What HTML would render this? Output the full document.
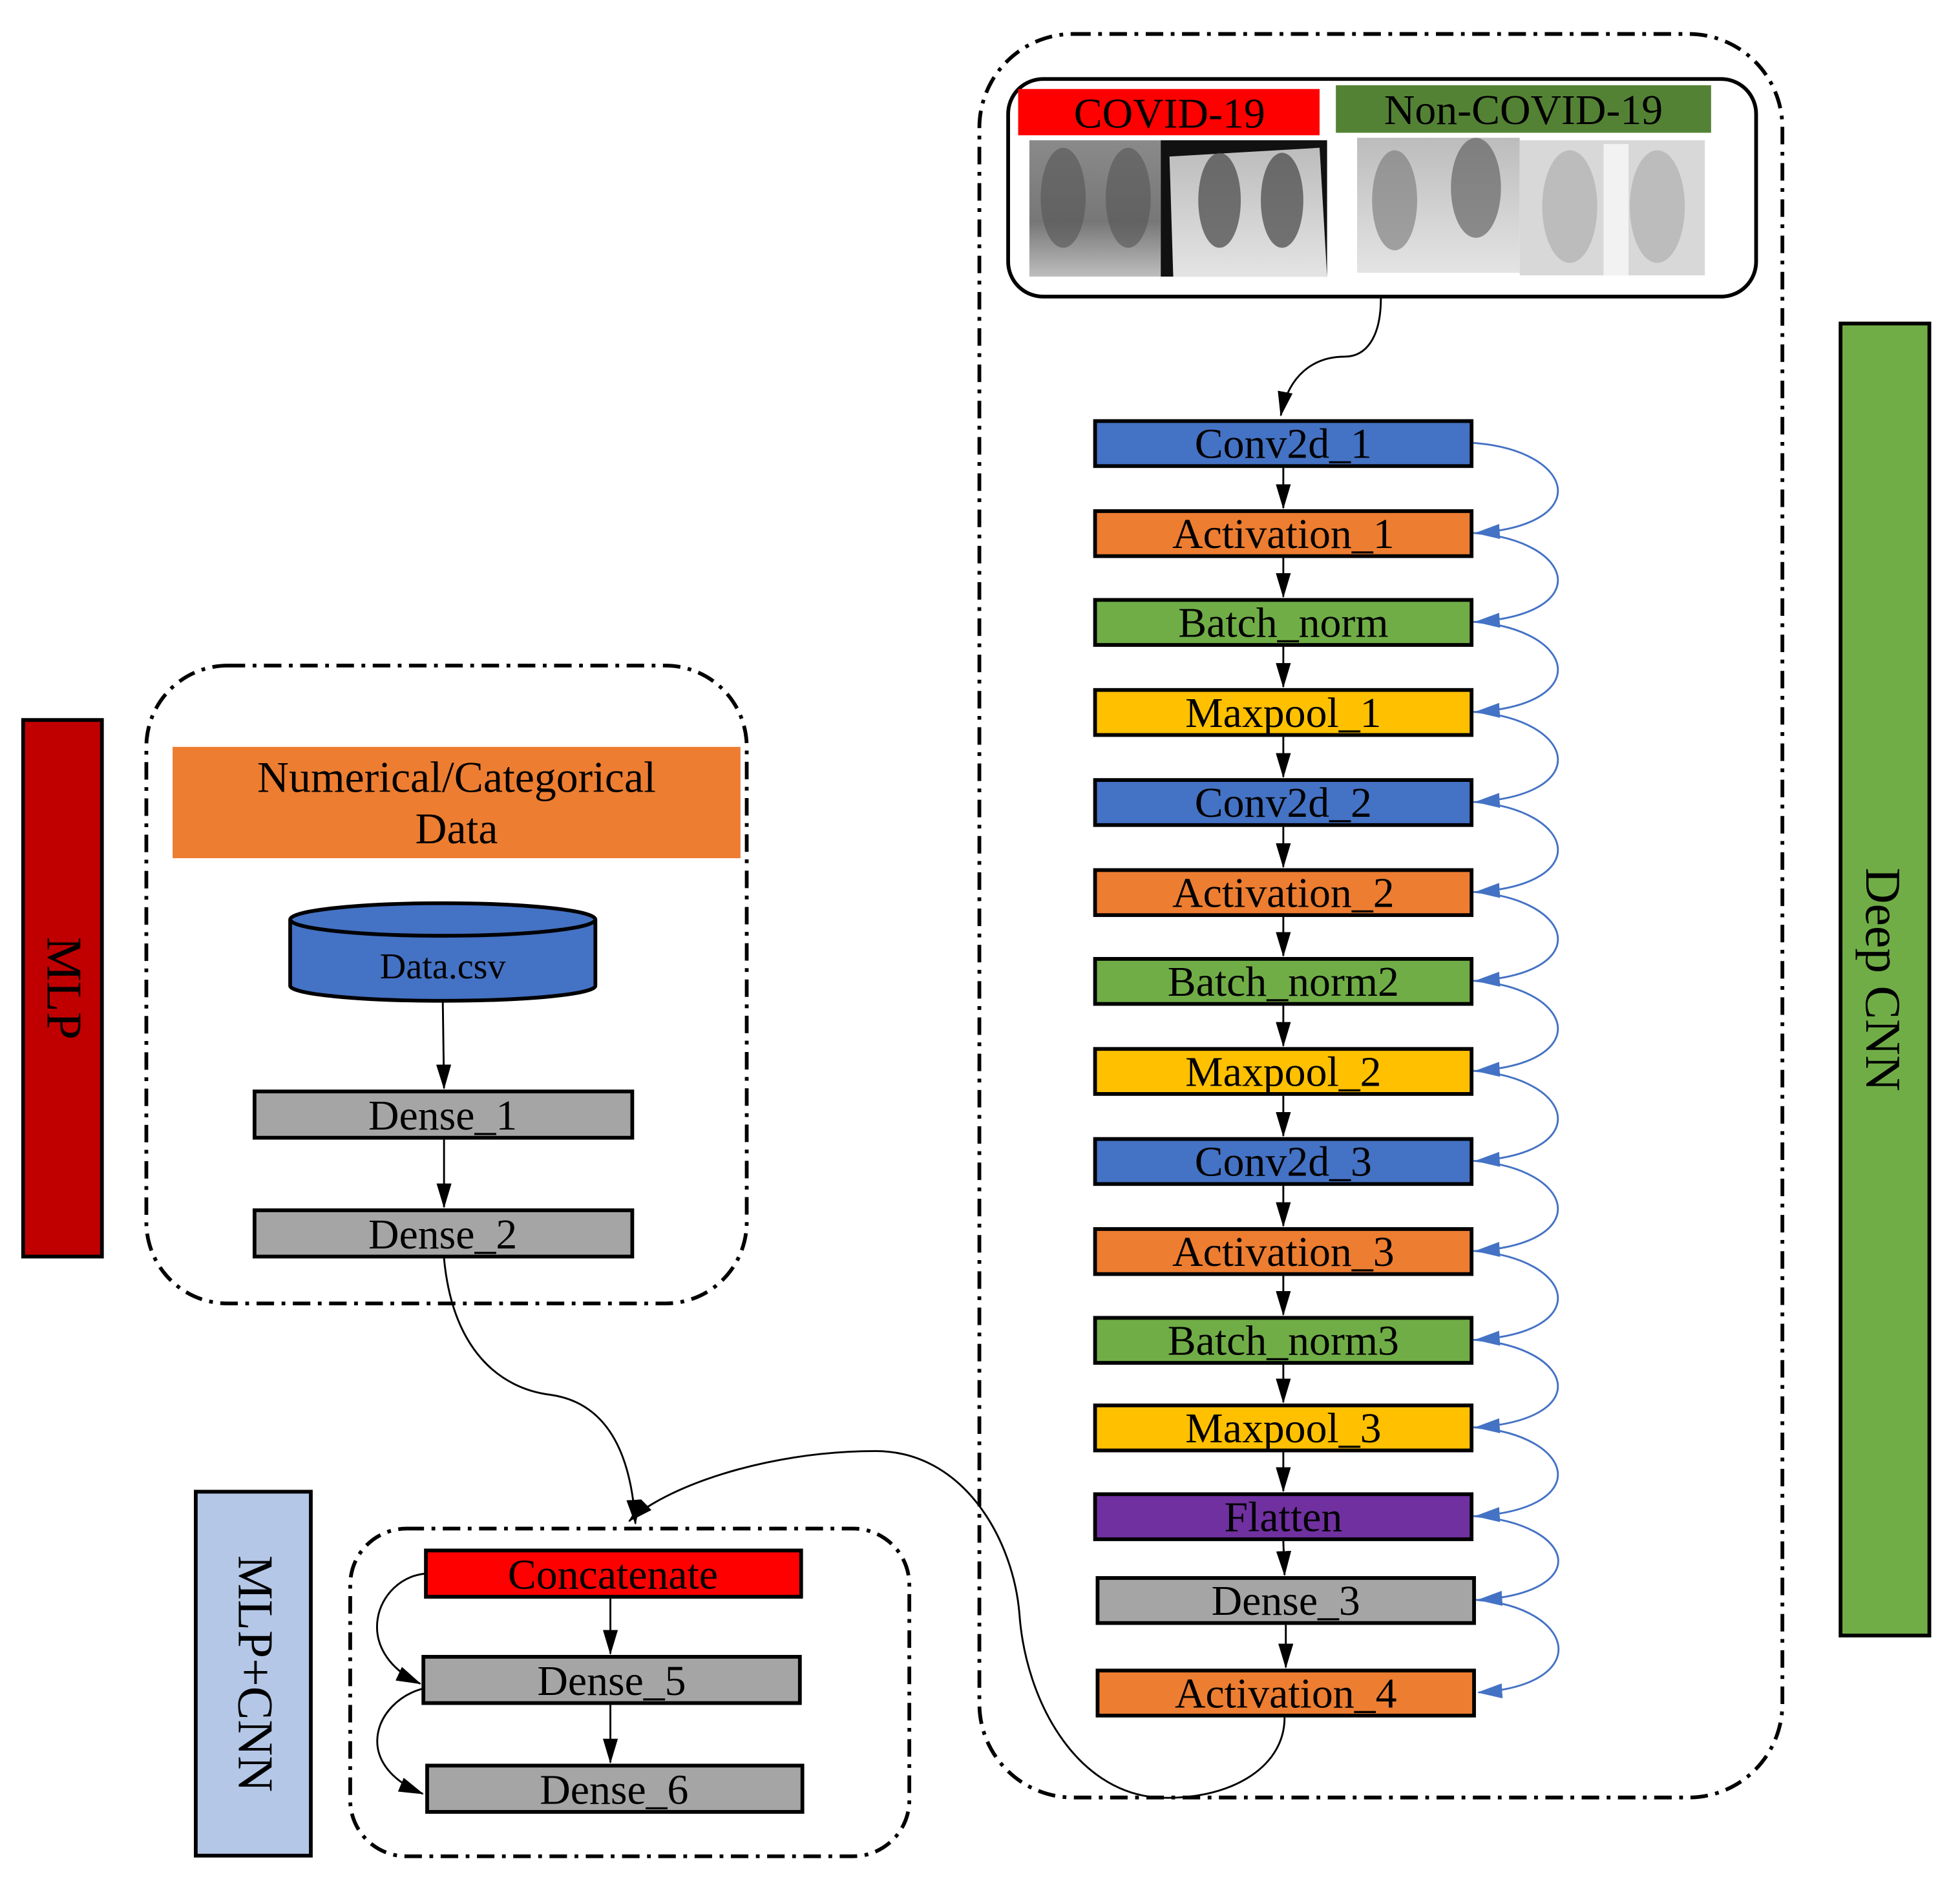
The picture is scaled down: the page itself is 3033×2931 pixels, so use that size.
<!DOCTYPE html>
<html><head><meta charset="utf-8"><style>
html,body{margin:0;padding:0;background:#fff;}
svg{display:block;}
text{font-family:"Liberation Serif",serif;fill:#000;}
</style></head><body>
<svg width="3033" height="2931" viewBox="0 0 1567 1514" xmlns="http://www.w3.org/2000/svg">
<defs>
<marker id="bk" viewBox="0 0 20 12" refX="19" refY="6" markerWidth="20" markerHeight="12" orient="auto" markerUnits="userSpaceOnUse"><path d="M0,0 L20,6 L0,12 Z" fill="#000"/></marker>
<marker id="bl" viewBox="0 0 20 12" refX="19" refY="6" markerWidth="20" markerHeight="13" orient="auto" markerUnits="userSpaceOnUse"><path d="M0,0 L20,6 L0,12 Z" fill="#4472c4"/></marker>
<linearGradient id="x1" x1="0" y1="0" x2="0" y2="1"><stop offset="0" stop-color="#8a8a8a"/><stop offset="0.6" stop-color="#777"/><stop offset="1" stop-color="#bdbdbd"/></linearGradient>
<linearGradient id="x2" x1="0" y1="0" x2="0" y2="1"><stop offset="0" stop-color="#bcbcbc"/><stop offset="1" stop-color="#e4e4e4"/></linearGradient>
</defs>

<rect x="18.5" y="575.5" width="63" height="429" fill="#c00000" stroke="#000" stroke-width="3"/>
<text transform="translate(38,790) rotate(90)" font-size="40" text-anchor="middle">MLP</text>
<rect x="156.5" y="1192.5" width="92" height="291" fill="#b4c7e7" stroke="#000" stroke-width="3"/>
<text transform="translate(191,1338) rotate(90)" font-size="40" text-anchor="middle">MLP+CNN</text>
<rect x="1471.5" y="258.5" width="71" height="1049" fill="#70ad47" stroke="#000" stroke-width="3"/>
<text transform="translate(1492,783) rotate(90)" font-size="40" text-anchor="middle">Deep CNN</text>

<g fill="none" stroke="#000" stroke-width="3" stroke-dasharray="14,6,3,6">
<rect x="117" y="532" width="480" height="510" rx="65"/>
<rect x="280" y="1222" width="447" height="262" rx="45"/>
<rect x="783" y="27" width="642" height="1410" rx="75"/>
</g>

<rect x="138" y="597" width="454" height="89" fill="#ed7d31"/>
<text x="365" y="633" font-size="35" text-anchor="middle">Numerical/Categorical</text>
<text x="365" y="674" font-size="35" text-anchor="middle">Data</text>
<path d="M232,735 L232,788 A122,12 0 0 0 476,788 L476,735" fill="#4472c4" stroke="#000" stroke-width="3"/>
<ellipse cx="354" cy="735" rx="122" ry="13" fill="#4472c4" stroke="#000" stroke-width="3"/>
<text x="354" y="782" font-size="29" text-anchor="middle">Data.csv</text>
<path d="M354,800 L355,870" stroke="#000" stroke-width="1.5" fill="none" marker-end="url(#bk)"/>
<rect x="203.5" y="872.5" width="302" height="37" fill="#a5a5a5" stroke="#000" stroke-width="3"/>
<text x="354" y="903" font-size="34" text-anchor="middle">Dense_1</text>
<path d="M355,911 L355,965" stroke="#000" stroke-width="1.5" fill="none" marker-end="url(#bk)"/>
<rect x="203.5" y="967.5" width="302" height="37" fill="#a5a5a5" stroke="#000" stroke-width="3"/>
<text x="354" y="998" font-size="34" text-anchor="middle">Dense_2</text>

<rect x="340.5" y="1239.5" width="300" height="37" fill="#ff0000" stroke="#000" stroke-width="3"/>
<text x="490" y="1270" font-size="34" text-anchor="middle">Concatenate</text>
<rect x="338.5" y="1324.5" width="301" height="37" fill="#a5a5a5" stroke="#000" stroke-width="3"/>
<text x="489" y="1355" font-size="34" text-anchor="middle">Dense_5</text>
<rect x="341.5" y="1411.5" width="300" height="37" fill="#a5a5a5" stroke="#000" stroke-width="3"/>
<text x="491" y="1442" font-size="34" text-anchor="middle">Dense_6</text>
<g stroke="#000" stroke-width="1.5" fill="none">
<path d="M488,1278 L488,1322" marker-end="url(#bk)"/>
<path d="M488,1363 L488,1409" marker-end="url(#bk)"/>
<path d="M340,1258 C300,1262 280,1320 336,1346" marker-end="url(#bk)"/>
<path d="M338,1350 C300,1360 280,1410 338,1434" marker-end="url(#bk)"/>
<path d="M355,1006 C362,1080 400,1110 440,1115 C490,1122 505,1170 508,1218" marker-end="url(#bk)"/>
<path d="M1027,1373 C1027,1415 980,1440 925,1437 C860,1432 820,1360 815,1290 C810,1230 770,1160 700,1160 C610,1160 530,1190 503,1216" marker-end="url(#bk)"/>
<path d="M1104,238 C1104,270 1092,285 1075,285 C1050,285 1030,300 1024,332" marker-end="url(#bk)"/>
</g>

<rect x="806" y="63" width="598" height="174" rx="28" fill="#fff" stroke="#000" stroke-width="3"/>
<rect x="814" y="71" width="241" height="37" fill="#ff0000"/>
<text x="935" y="102" font-size="34" text-anchor="middle">COVID-19</text>
<rect x="1068" y="68" width="300" height="38" fill="#548235"/>
<text x="1218" y="99" font-size="34" text-anchor="middle">Non-COVID-19</text>
<rect x="823" y="112" width="105" height="109" fill="url(#x1)"/>
<ellipse cx="850" cy="158" rx="18" ry="40" fill="#555" opacity="0.6"/>
<ellipse cx="902" cy="158" rx="18" ry="40" fill="#555" opacity="0.6"/>
<rect x="928" y="112" width="133" height="109" fill="#111"/>
<path d="M935,125 L1055,118 L1061,221 L938,221 Z" fill="url(#x2)"/>
<ellipse cx="975" cy="160" rx="17" ry="38" fill="#444" opacity="0.7"/>
<ellipse cx="1025" cy="160" rx="17" ry="38" fill="#444" opacity="0.7"/>
<rect x="1085" y="110" width="130" height="108" fill="url(#x2)"/>
<ellipse cx="1115" cy="160" rx="18" ry="40" fill="#777" opacity="0.6"/>
<ellipse cx="1180" cy="150" rx="20" ry="40" fill="#555" opacity="0.6"/>
<rect x="1215" y="112" width="148" height="108" fill="#d8d8d8"/>
<ellipse cx="1255" cy="165" rx="22" ry="45" fill="#aaa" opacity="0.6"/>
<ellipse cx="1325" cy="165" rx="22" ry="45" fill="#aaa" opacity="0.6"/>
<rect x="1282" y="115" width="20" height="105" fill="#f2f2f2"/>

<g stroke="#000" stroke-width="3">
<rect x="875.5" y="336.5" width="301" height="36" fill="#4472c4"/>
<rect x="875.5" y="408.5" width="301" height="36" fill="#ed7d31"/>
<rect x="875.5" y="479.5" width="301" height="36" fill="#70ad47"/>
<rect x="875.5" y="551.5" width="301" height="36" fill="#ffc000"/>
<rect x="875.5" y="623.5" width="301" height="36" fill="#4472c4"/>
<rect x="875.5" y="695.5" width="301" height="36" fill="#ed7d31"/>
<rect x="875.5" y="766.5" width="301" height="36" fill="#70ad47"/>
<rect x="875.5" y="838.5" width="301" height="36" fill="#ffc000"/>
<rect x="875.5" y="910.5" width="301" height="36" fill="#4472c4"/>
<rect x="875.5" y="982.5" width="301" height="36" fill="#ed7d31"/>
<rect x="875.5" y="1053.5" width="301" height="36" fill="#70ad47"/>
<rect x="875.5" y="1123.5" width="301" height="36" fill="#ffc000"/>
<rect x="875.5" y="1194.5" width="301" height="36" fill="#7030a0"/>
<rect x="877.5" y="1261.5" width="301" height="36" fill="#a5a5a5"/>
<rect x="877.5" y="1335.5" width="301" height="36" fill="#ed7d31"/>
</g>
<g font-size="34" text-anchor="middle">
<text x="1026" y="366">Conv2d_1</text>
<text x="1026" y="438">Activation_1</text>
<text x="1026" y="509">Batch_norm</text>
<text x="1026" y="581">Maxpool_1</text>
<text x="1026" y="653">Conv2d_2</text>
<text x="1026" y="725">Activation_2</text>
<text x="1026" y="796">Batch_norm2</text>
<text x="1026" y="868">Maxpool_2</text>
<text x="1026" y="940">Conv2d_3</text>
<text x="1026" y="1012">Activation_3</text>
<text x="1026" y="1083">Batch_norm3</text>
<text x="1026" y="1153">Maxpool_3</text>
<text x="1026" y="1224">Flatten</text>
<text x="1028" y="1291">Dense_3</text>
<text x="1028" y="1365">Activation_4</text>
</g>
<g stroke="#000" stroke-width="1.5" fill="none">
<path d="M1026,374 L1026,406" marker-end="url(#bk)"/>
<path d="M1026,446 L1026,477" marker-end="url(#bk)"/>
<path d="M1026,517 L1026,549" marker-end="url(#bk)"/>
<path d="M1026,589 L1026,621" marker-end="url(#bk)"/>
<path d="M1026,661 L1026,693" marker-end="url(#bk)"/>
<path d="M1026,733 L1026,764" marker-end="url(#bk)"/>
<path d="M1026,804 L1026,836" marker-end="url(#bk)"/>
<path d="M1026,876 L1026,908" marker-end="url(#bk)"/>
<path d="M1026,948 L1026,980" marker-end="url(#bk)"/>
<path d="M1026,1020 L1026,1051" marker-end="url(#bk)"/>
<path d="M1026,1091 L1026,1121" marker-end="url(#bk)"/>
<path d="M1026,1161 L1026,1192" marker-end="url(#bk)"/>
<path d="M1026,1232 L1027,1259" marker-end="url(#bk)"/>
<path d="M1028,1299 L1028,1333" marker-end="url(#bk)"/>
</g>
<g stroke="#4472c4" stroke-width="1.5" fill="none">
<path d="M1178,354 C1260,360 1275,420 1180,426" marker-end="url(#bl)"/>
<path d="M1178,426 C1260,432 1275,491 1180,497" marker-end="url(#bl)"/>
<path d="M1178,497 C1260,503 1275,563 1180,569" marker-end="url(#bl)"/>
<path d="M1178,569 C1260,575 1275,635 1180,641" marker-end="url(#bl)"/>
<path d="M1178,641 C1260,647 1275,707 1180,713" marker-end="url(#bl)"/>
<path d="M1178,713 C1260,719 1275,778 1180,784" marker-end="url(#bl)"/>
<path d="M1178,784 C1260,790 1275,850 1180,856" marker-end="url(#bl)"/>
<path d="M1178,856 C1260,862 1275,922 1180,928" marker-end="url(#bl)"/>
<path d="M1178,928 C1260,934 1275,994 1180,1000" marker-end="url(#bl)"/>
<path d="M1178,1000 C1260,1006 1275,1065 1180,1071" marker-end="url(#bl)"/>
<path d="M1178,1071 C1260,1077 1275,1135 1180,1141" marker-end="url(#bl)"/>
<path d="M1178,1141 C1260,1147 1275,1206 1180,1212" marker-end="url(#bl)"/>
<path d="M1178,1212 C1260,1218 1275,1273 1182,1279" marker-end="url(#bl)"/>
<path d="M1180,1279 C1260,1285 1275,1347 1182,1353" marker-end="url(#bl)"/>
</g>
</svg>
</body></html>
